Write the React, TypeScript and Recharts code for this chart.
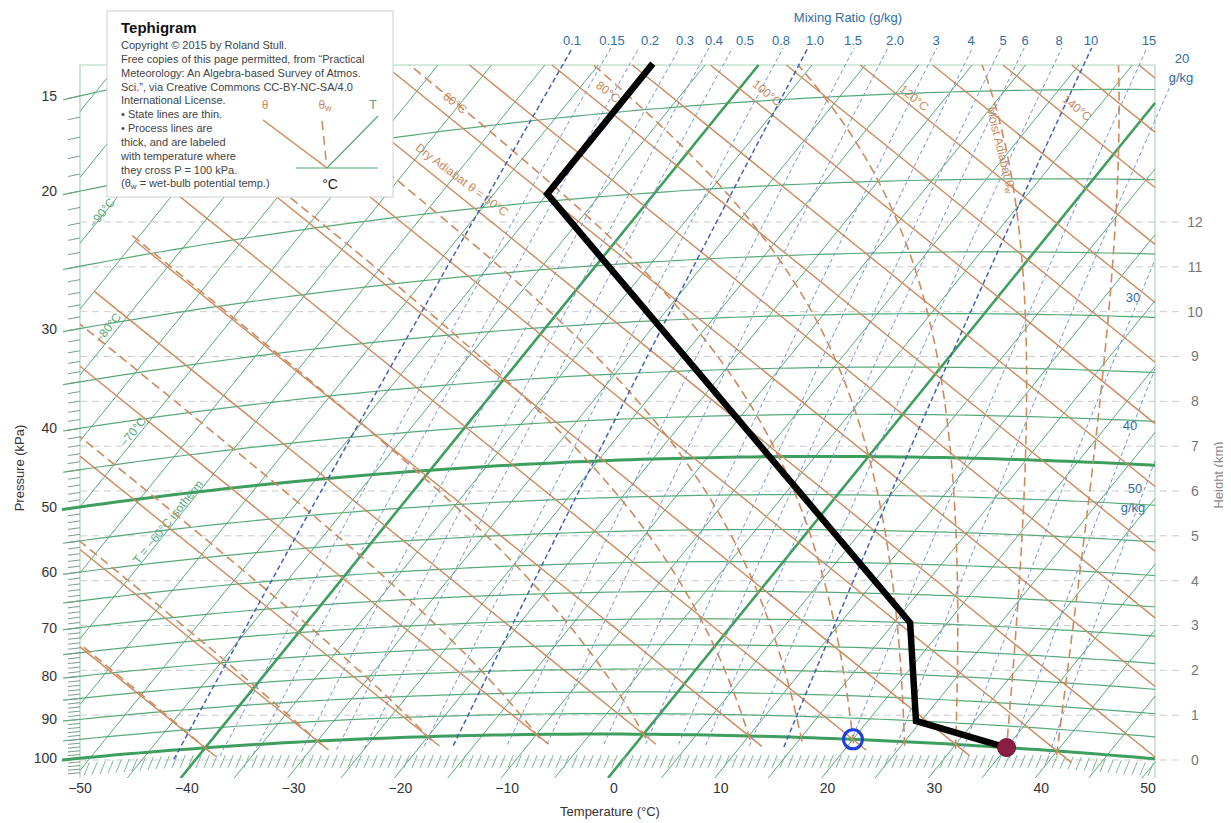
import React from 'react';
import { ComposedChart, Line, XAxis, YAxis } from 'recharts';

// ---------------- values ----------------
const TEMP_TICKS = [-50, -40, -30, -20, -10, 0, 10, 20, 30, 40, 50];
const PRESSURE_LABELS = [15, 20, 30, 40, 50, 60, 70, 80, 90, 100];
const MINOR_PRESSURES = [
  15, 16, 17, 18, 19, 20, 21, 22, 23, 24, 25, 26, 27, 28, 29, 30, 31, 32, 33, 34, 35, 36, 37, 38, 39,
  40, 41, 42, 43, 44, 45, 46, 47, 48, 49, 50, 51, 52, 53, 54, 55, 56, 57, 58, 59, 60, 61, 62, 63, 64,
  65, 66, 67, 68, 69, 70, 71, 72, 73, 74, 75, 76, 77, 78, 79, 80, 81, 82, 83, 84, 85, 86, 87, 88, 89,
  90, 91, 92, 93, 94, 95, 96, 97, 98, 99, 100, 101, 102, 103, 104,
];
const HEIGHT_TICKS = [0, 1, 2, 3, 4, 5, 6, 7, 8, 9, 10, 11, 12];
const ISOTHERMS = [
  -105, -100, -95, -90, -85, -80, -75, -70, -65, -60, -55, -50, -45, -40, -35, -30, -25, -20, -15, -10,
  -5, 0, 5, 10, 15, 20, 25, 30, 35, 40, 45, 50,
];
const THICK_ISOTHERMS = [-40, 0];
const ISOBARS = [15, 20, 25, 30, 35, 40, 45, 50, 55, 60, 65, 70, 75, 80, 85, 90, 95, 100];
const THICK_ISOBARS = [50, 100];
const DRY_ADIABATS = [-40, -30, -20, -10, 0, 10, 20, 30, 40, 50, 60, 70, 80, 90, 100, 110, 120, 130, 140, 150, 160];
const MOIST_ADIABATS = [-40, -30, -20, -10, 0, 10, 15, 20, 25, 30, 35, 40];
const MIXING_RATIOS = [0.1, 0.15, 0.2, 0.3, 0.4, 0.5, 0.8, 1, 1.5, 2, 3, 4, 5, 6, 8, 10, 15, 20, 30, 40, 50];
const DARK_MIXING_RATIOS = [0.1, 1, 10];
const MIX_TOP_LABELS = ['0.1', '0.15', '0.2', '0.3', '0.4', '0.5', '0.8', '1.0', '1.5', '2.0', '3', '4', '5', '6', '8', '10', '15'];
// sounding (kPa, °C)
const SOUNDING_P = [100, 95, 75, 24.5, 17.7];
const SOUNDING_T = [35, 24.5, 16.5, -50, -50];
const SURFACE_T = { p: 100, T: 35 };
const SURFACE_TD = { p: 100, T: 20 };

// ---------------- layout ----------------
const FONT = '"Liberation Sans", Arial, Helvetica, sans-serif';
const W = 1215;
const H = 807;
const PXU = 10.68; // pixels per chart unit
const px2X = (sx: number) => (sx - 80) / PXU - 50;
const py2Y = (sy: number) => (778 - sy) / PXU;
const X_DOMAIN: [number, number] = [px2X(62), px2X(1185)];
const Y_DOMAIN: [number, number] = [py2Y(778), py2Y(30)];
const KM_PX = 538 / 12;
const H_DOMAIN: [number, number] = [(760 - 778) / KM_PX, (760 - 30) / KM_PX];
const MIX_LABEL_X = [572, 612, 650, 685, 714, 745, 781, 815, 853, 895, 936, 971, 1003, 1025, 1059, 1091, 1149];

// colours
const GREEN = '#58a979';
const GREEN_THICK = '#3d9e5e';
const BROWN = '#cd8a5c';
const BLUE = '#7393d4';
const BLUE_DARK = '#4462b4';
const GRAY = '#cbcbcb';
const FRAME = '#a9d5b9';
const LBLUE = '#2f6ea6';

// ---------------- tephigram projection ----------------
const KAPPA = 0.2857;
const PA = 0.6049, PB = 106.37, PD = -0.4878, PE = 131.27, PF = -732.33;
const PC = (PB * PF) / PE - 0.56;
type Pt = { x: number; y: number };
const projTL = (Tc: number, L: number): Pt => ({ x: PA * Tc + PB * L + PC, y: PD * Tc + PE * L + PF });
const proj = (Tc: number, p: number): Pt => projTL(Tc, Math.log(Tc + 273.15) + KAPPA * Math.log(100 / p));

type Rect = { x0: number; x1: number; y0: number; y1: number };
const pageRect = (l: number, r: number, t: number, b: number): Rect => ({ x0: px2X(l), x1: px2X(r), y0: py2Y(b), y1: py2Y(t) });
const FRAME_RECT = pageRect(80, 1155, 65, 778);

function clipSegment(a: Pt, b: Pt, R: Rect): [number, number] | null {
  let t0 = 0, t1 = 1;
  const dx = b.x - a.x, dy = b.y - a.y;
  const ps = [-dx, dx, -dy, dy];
  const qs = [a.x - R.x0, R.x1 - a.x, a.y - R.y0, R.y1 - a.y];
  for (let i = 0; i < 4; i++) {
    const p = ps[i], q = qs[i];
    if (p === 0) {
      if (q < 0) return null;
    } else {
      const t = q / p;
      if (p < 0) {
        if (t > t1) return null;
        if (t > t0) t0 = t;
      } else {
        if (t < t0) return null;
        if (t < t1) t1 = t;
      }
    }
  }
  return [t0, t1];
}

function clipPolyline(pts: Pt[], R: Rect): Pt[][] {
  const out: Pt[][] = [];
  let cur: Pt[] | null = null;
  for (let i = 0; i < pts.length - 1; i++) {
    const a = pts[i], b = pts[i + 1];
    const c = clipSegment(a, b, R);
    if (!c) {
      if (cur) { out.push(cur); cur = null; }
      continue;
    }
    const [t0, t1] = c;
    const pa = { x: a.x + (b.x - a.x) * t0, y: a.y + (b.y - a.y) * t0 };
    const pb = { x: a.x + (b.x - a.x) * t1, y: a.y + (b.y - a.y) * t1 };
    if (!cur || t0 > 0) {
      if (cur) out.push(cur);
      cur = [pa];
    }
    cur.push(pb);
    if (t1 < 1) { out.push(cur); cur = null; }
  }
  if (cur) out.push(cur);
  return out.filter((s) => s.length >= 2);
}

type Row = { x: number; y: number | null };
function joinSegs(segs: Pt[][]): Row[] {
  const res: Row[] = [];
  segs.forEach((s) => {
    s.forEach((p) => res.push({ x: p.x, y: p.y }));
    res.push({ x: s[s.length - 1].x, y: null });
  });
  return res;
}

function isothermPts(T: number): Pt[] {
  const L0 = (-3 - PD * T - PF) / PE;
  const L1 = (90 - PD * T - PF) / PE;
  return [projTL(T, L0), projTL(T, L1)];
}
function dryPts(th: number): Pt[] {
  const L = Math.log(th + 273.15);
  const Tstart = (th + 273.15) * Math.pow(102.5 / 100, KAPPA) - 273.15;
  if (Tstart < -85) return [];
  return [projTL(Tstart, L), projTL(-85, L)];
}
function isobarPts(p: number): Pt[] {
  const pts: Pt[] = [];
  for (let T = -160; T <= 70; T += 1) pts.push(proj(T, p));
  return pts;
}
function isobarYAtX(p: number, X: number): number {
  let lo = -200, hi = 120;
  for (let i = 0; i < 60; i++) {
    const m = (lo + hi) / 2;
    if (proj(m, p).x < X) lo = m; else hi = m;
  }
  return proj((lo + hi) / 2, p).y;
}
function moistPts(thw: number): Pt[] {
  const Rd = 287.04, Cp = 1005.7, Lv = 2.5e6, eps = 0.622;
  const dTdp = (T: number, p: number) => {
    const es = 0.6113 * Math.exp(5423 * (1 / 273.15 - 1 / T));
    const rs = (eps * es) / (p - es);
    return (Rd * T + Lv * rs) / (Cp + (Lv * Lv * rs * eps) / (Rd * T * T)) / p;
  };
  const step = (T: number, p: number, dp: number) => {
    const k1 = dTdp(T, p);
    const k2 = dTdp(T + (k1 * dp) / 2, p + dp / 2);
    return T + k2 * dp;
  };
  const out: [number, number][] = [];
  let Tb = thw + 273.15, pb = 100;
  for (let i = 0; i < 4; i++) { Tb = step(Tb, pb, 0.25); pb += 0.25; }
  out.push([pb, Tb]);
  let T = thw + 273.15, p = 100;
  out.push([p, T]);
  for (let i = 0; i < 400 && p > 10.2; i++) {
    T = step(T, p, -0.25);
    p -= 0.25;
    if (i % 3 === 2) out.push([p, T]);
    if (T < 188) break;
  }
  return out.map(([pp, TT]) => proj(TT - 273.15, pp));
}
function mixingPts(r: number): Pt[] {
  const pts: Pt[] = [];
  const rk = r / 1000;
  for (let i = 0; i <= 90; i++) {
    const p = 102.5 * Math.exp(-i * 0.04);
    const e = (rk * p) / (0.622 + rk);
    const Tk = 1 / (1 / 273.15 - Math.log(e / 0.6113) / 5423);
    pts.push(proj(Tk - 273.15, p));
  }
  return pts;
}

// ---------------- build series ----------------
const thinIsotherms = joinSegs(ISOTHERMS.filter((t) => !THICK_ISOTHERMS.includes(t)).flatMap((t) => clipPolyline(isothermPts(t), FRAME_RECT)));
const thickIsotherms = joinSegs(THICK_ISOTHERMS.flatMap((t) => clipPolyline(isothermPts(t), FRAME_RECT)));
const ISOBAR_RECT = pageRect(63, 1155, 65, 778);
const thinIsobars = joinSegs(ISOBARS.filter((p) => !THICK_ISOBARS.includes(p)).flatMap((p) => clipPolyline(isobarPts(p), ISOBAR_RECT)));
const thickIsobars = joinSegs(THICK_ISOBARS.flatMap((p) => clipPolyline(isobarPts(p), pageRect(61, 1155, 65, 778))));
const minorTicks = joinSegs(MINOR_PRESSURES.flatMap((p) => clipPolyline(isobarPts(p), pageRect(68, 80, 60, 790))));
const dryLines = joinSegs(DRY_ADIABATS.flatMap((t) => clipPolyline(dryPts(t), FRAME_RECT)));
const moistLines = joinSegs(MOIST_ADIABATS.flatMap((t) => clipPolyline(moistPts(t), FRAME_RECT)));
const mixRect = (r: number) => pageRect(80, r === 20 ? 1174 : 1155, 48, 778);
const thinMix = joinSegs(MIXING_RATIOS.filter((r) => !DARK_MIXING_RATIOS.includes(r)).flatMap((r) => clipPolyline(mixingPts(r), mixRect(r))));
const darkMix = joinSegs(DARK_MIXING_RATIOS.flatMap((r) => clipPolyline(mixingPts(r), mixRect(r))));
const heightLines = joinSegs(HEIGHT_TICKS.map((z) => [{ x: px2X(80), y: z }, { x: px2X(1182), y: z }]));
const hatchSegs: Pt[][] = [];
for (let sx = 84; sx <= 1150; sx += 8) {
  const X = px2X(sx);
  const y100 = isobarYAtX(100, X);
  const top = Math.min(py2Y(755), y100 - 0.45);
  hatchSegs.push([{ x: X, y: top - 1.2 }, { x: X + 0.5, y: top }]);
}
const hatches = joinSegs(hatchSegs);
const frameData: Row[] = [
  { x: px2X(80), y: py2Y(778) },
  { x: px2X(80), y: py2Y(65) },
  { x: px2X(1155), y: py2Y(65) },
  { x: px2X(1155), y: py2Y(778) },
];
const sounding = SOUNDING_P.map((p, i) => proj(SOUNDING_T[i], p));
const surfT = [proj(SURFACE_T.T, SURFACE_T.p)];
const surfTd = [proj(SURFACE_TD.T, SURFACE_TD.p)];
const pTickYs = PRESSURE_LABELS.map((p) => isobarYAtX(p, px2X(80)));

const fmtT = (v: number) => (v < 0 ? '\u2212' + Math.abs(v) : String(v));
const fmtP = (v: number) => {
  const i = pTickYs.findIndex((y) => Math.abs(y - v) < 1e-6);
  return i >= 0 ? String(PRESSURE_LABELS[i]) : '';
};

const mk = (key: string, data: Row[] | Pt[], stroke: string, width: number, dash?: string, yAxisId = 'p') => (
  <Line
    key={key}
    data={data as any}
    dataKey="y"
    yAxisId={yAxisId}
    type="linear"
    stroke={stroke}
    strokeWidth={width}
    strokeDasharray={dash}
    dot={false}
    activeDot={false}
    isAnimationActive={false}
    connectNulls={false}
    legendType="none"
  />
);

// label helper (page coordinates -> local svg coordinates)
const P = (v: number) => v - 8;
type Lab = { t: React.ReactNode; x: number; y: number; c: string; s?: number; r?: number; a?: string };
const IN_CHART_LABELS: Lab[] = [
  { t: 'Mixing Ratio (g/kg)', x: 848, y: 17, c: LBLUE, s: 13 },
  ...MIX_TOP_LABELS.map((t, i) => ({ t, x: MIX_LABEL_X[i], y: 40, c: LBLUE, s: 13 })),
  { t: '20', x: 1182, y: 58, c: LBLUE, s: 13 },
  { t: 'g/kg', x: 1181, y: 77, c: LBLUE, s: 13 },
  { t: '30', x: 1133, y: 297, c: LBLUE, s: 13 },
  { t: '40', x: 1130, y: 425, c: LBLUE, s: 13 },
  { t: '50', x: 1135, y: 488, c: LBLUE, s: 13 },
  { t: 'g/kg', x: 1133, y: 507, c: LBLUE, s: 13 },
  { t: '\u221290\u00b0C', x: 102, y: 213, c: GREEN, s: 12, r: -51 },
  { t: '\u221280\u00b0C', x: 108, y: 328, c: GREEN, s: 12, r: -51 },
  { t: '\u221270\u00b0C', x: 133, y: 432, c: GREEN, s: 12, r: -51 },
  { t: 'T = \u221260\u00b0C isotherm', x: 168, y: 522, c: GREEN, s: 12, r: -51 },
  { t: '60\u00b0C', x: 455, y: 103, c: BROWN, s: 12, r: 39 },
  { t: '80\u00b0C', x: 608, y: 92, c: BROWN, s: 12, r: 39 },
  { t: '100\u00b0C', x: 767, y: 93, c: BROWN, s: 12, r: 39 },
  { t: '120\u00b0C', x: 914, y: 98, c: BROWN, s: 12, r: 39 },
  { t: '140\u00b0C', x: 1077, y: 108, c: BROWN, s: 12, r: 39 },
  { t: 'Dry Adiabat  \u03b8 = 50\u00b0C', x: 462, y: 180, c: BROWN, s: 12, r: 37 },
  {
    t: (
      <>
        Moist Adiabat  {'\u03b8'}
        <tspan fontSize={9} dy={3}>w</tspan>
      </>
    ),
    x: 1001, y: 150, c: BROWN, s: 12, r: 76,
  },
  { t: 'Temperature (\u00b0C)', x: 610, y: 811, c: '#333', s: 13 },
  { t: 'Pressure (kPa)', x: 19, y: 468, c: '#333', s: 13, r: -90 },
  { t: 'Height (km)', x: 1218, y: 475, c: '#888', s: 13, r: -90 },
];

const LEGEND_LINES = [
  'Copyright \u00a9 2015 by Roland Stull.',
  'Free copies of this page permitted, from \u201cPractical',
  'Meteorology: An Algebra-based Survey of Atmos.',
  'Sci.\u201d, via Creative Commons CC-BY-NC-SA/4.0',
  'International License.',
  '\u2022 State lines are thin.',
  '\u2022 Process lines are',
  'thick, and are labeled',
  'with temperature where',
  'they cross P = 100 kPa.',
];

function renderLab(l: Lab, i: number) {
  const x = P(l.x), y = P(l.y);
  return (
    <text
      key={i}
      x={x}
      y={y}
      fill={l.c}
      fontSize={l.s || 12}
      fontFamily={FONT}
      textAnchor={(l.a as any) || 'middle'}
      dominantBaseline="central"
      transform={l.r ? `rotate(${l.r} ${x} ${y})` : undefined}
    >
      {l.t}
    </text>
  );
}

function HeightTick(props: any) {
  const { x, y, payload } = props;
  return (
    <text x={x + 6} y={y} dy="0.35em" textAnchor="middle" fontSize={14} fill="#777" fontFamily={FONT}>
      {payload.value}
    </text>
  );
}

const SVG_STYLE: React.CSSProperties = { position: 'absolute', left: 0, top: 0, overflow: 'visible', pointerEvents: 'none' };

export default function App() {
  return (
    <div style={{ position: 'relative', width: W, height: H + 8, fontFamily: FONT }}>
      <svg style={SVG_STYLE} width={W + 8} height={H + 8}>
        {IN_CHART_LABELS.map(renderLab)}
      </svg>
      <div style={{ position: 'relative' }}>
        <ComposedChart width={W} height={H} margin={{ top: 22, right: 0, bottom: 0, left: 0 }}>
          <XAxis
            type="number"
            dataKey="x"
            domain={X_DOMAIN}
            allowDataOverflow
            ticks={TEMP_TICKS}
            interval={0}
            tickFormatter={fmtT}
            axisLine={false}
            tickLine={false}
            tickSize={3}
            tickMargin={2}
            height={37}
            tick={{ fontSize: 14, fill: '#333', fontFamily: FONT }}
          />
          <YAxis
            yAxisId="p"
            type="number"
            domain={Y_DOMAIN}
            allowDataOverflow
            ticks={pTickYs}
            interval={0}
            tickFormatter={fmtP}
            axisLine={false}
            tickLine={false}
            tickSize={3}
            tickMargin={2}
            width={54}
            tick={{ fontSize: 14, fill: '#333', fontFamily: FONT }}
          />
          <YAxis
            yAxisId="h"
            orientation="right"
            type="number"
            domain={H_DOMAIN}
            allowDataOverflow
            ticks={HEIGHT_TICKS}
            interval={0}
            axisLine={false}
            tickLine={false}
            tickSize={2}
            tickMargin={2}
            width={38}
            tick={<HeightTick />}
          />
          {mk('frame', frameData, FRAME, 1.2)}
          {mk('height', heightLines, GRAY, 1, '7 5', 'h')}
          {mk('isobars', thinIsobars, GREEN, 1.2)}
          {mk('minor', minorTicks, '#7a9e88', 1)}
          {mk('isotherms', thinIsotherms, GREEN, 1)}
          {mk('isothermsThick', thickIsotherms, GREEN_THICK, 2.6)}
          {mk('isobarsThick', thickIsobars, GREEN_THICK, 3)}
          {mk('dry', dryLines, BROWN, 1.4)}
          {mk('moist', moistLines, BROWN, 1.6, '9 5')}
          {mk('mix', thinMix, BLUE, 1, '4 3')}
          {mk('mixDark', darkMix, BLUE_DARK, 1.5, '5 3')}
          {mk('hatch', hatches, '#7db894', 1)}
          <Line
            data={sounding as any}
            dataKey="y"
            yAxisId="p"
            type="linear"
            stroke="#000"
            strokeWidth={6.5}
            strokeLinejoin="miter"
            dot={false}
            activeDot={false}
            isAnimationActive={false}
            legendType="none"
          />
          <Line
            data={surfTd as any}
            dataKey="y"
            yAxisId="p"
            stroke="none"
            isAnimationActive={false}
            legendType="none"
            activeDot={false}
            dot={(pr: any) => <circle key="td" cx={pr.cx} cy={pr.cy} r={9.5} fill="none" stroke="#1c3ee6" strokeWidth={3} />}
          />
          <Line
            data={surfT as any}
            dataKey="y"
            yAxisId="p"
            stroke="none"
            isAnimationActive={false}
            legendType="none"
            activeDot={false}
            dot={(pr: any) => <circle key="t" cx={pr.cx} cy={pr.cy} r={9} fill="#8c1d42" stroke="#6b1232" strokeWidth={1} />}
          />
        </ComposedChart>
      </div>
      <svg style={SVG_STYLE} width={W + 8} height={H + 8}>
        <rect x={P(107)} y={P(11)} width={286} height={186} fill="#fff" stroke="#cfcfcf" strokeWidth={1} />
        <text x={P(121)} y={P(27)} dominantBaseline="central" fontSize={15} fontWeight="bold" fill="#111" fontFamily={FONT}>
          Tephigram
        </text>
        {LEGEND_LINES.map((t, i) => (
          <text key={i} x={P(121)} y={P(45 + i * 13.85)} dominantBaseline="central" fontSize={11} fill="#444" fontFamily={FONT}>
            {t}
          </text>
        ))}
        <text x={P(121)} y={P(183)} dominantBaseline="central" fontSize={11} fill="#444" fontFamily={FONT}>
          ({'\u03b8'}
          <tspan fontSize={8} dy={3}>w</tspan>
          <tspan dy={-3}> = wet-bulb potential temp.)</tspan>
        </text>
        <line x1={P(263)} y1={P(120)} x2={P(327)} y2={P(168)} stroke={BROWN} strokeWidth={1.5} />
        <line x1={P(322)} y1={P(121)} x2={P(326)} y2={P(160)} stroke={BROWN} strokeWidth={1.5} strokeDasharray="9 6" />
        <line x1={P(327)} y1={P(168)} x2={P(378)} y2={P(116)} stroke={GREEN} strokeWidth={1.2} />
        <line x1={P(296)} y1={P(168)} x2={P(378)} y2={P(168)} stroke={GREEN} strokeWidth={1.2} />
        <text x={P(265)} y={P(105)} textAnchor="middle" dominantBaseline="central" fontSize={12} fill={BROWN} fontFamily={FONT}>
          {'\u03b8'}
        </text>
        <text x={P(325)} y={P(105)} textAnchor="middle" dominantBaseline="central" fontSize={12} fill={BROWN} fontFamily={FONT}>
          {'\u03b8'}
          <tspan fontSize={9} dy={3}>w</tspan>
        </text>
        <text x={P(373)} y={P(104)} textAnchor="middle" dominantBaseline="central" fontSize={13} fill={GREEN} fontFamily={FONT}>
          T
        </text>
        <text x={P(330)} y={P(184)} textAnchor="middle" dominantBaseline="central" fontSize={14} fill="#222" fontFamily={FONT}>
          {'\u00b0C'}
        </text>
      </svg>
    </div>
  );
}
